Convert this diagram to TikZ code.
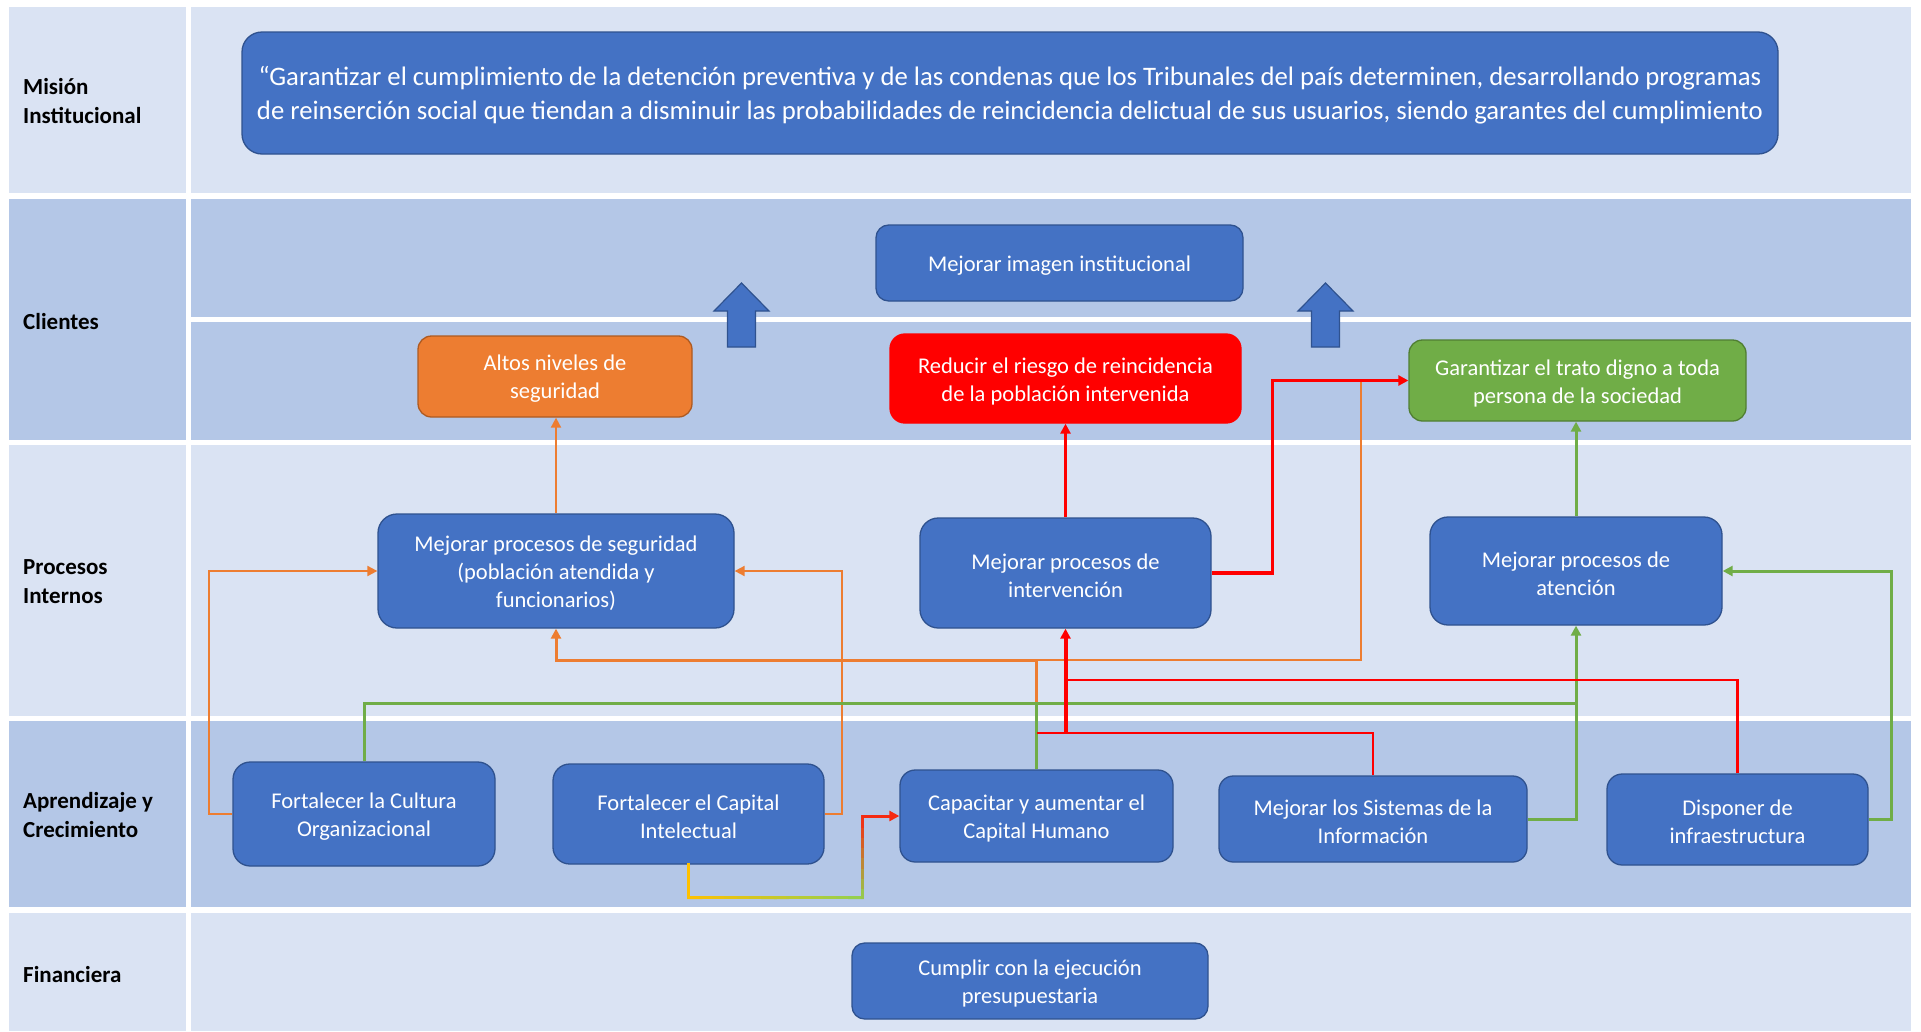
\documentclass[tikz,border=0pt]{standalone}
\usepackage{fontspec}
\setmainfont{Carlito}
\usetikzlibrary{arrows.meta,calc}

\definecolor{laneLight}{HTML}{DAE3F3}
\definecolor{laneDark}{HTML}{B4C7E7}
\definecolor{boxBlue}{HTML}{4472C4}
\definecolor{boxEdge}{HTML}{2F528F}
\definecolor{accOrange}{HTML}{ED7D31}
\definecolor{accOrangeEdge}{HTML}{AE5A21}
\definecolor{accGreen}{HTML}{70AD47}
\definecolor{accGreenEdge}{HTML}{507E32}
\definecolor{accRed}{HTML}{FF0000}
\definecolor{gYel}{HTML}{FFC000}
\definecolor{gGrn}{HTML}{92D050}
\definecolor{gRed}{HTML}{F52A12}

\begin{document}
\begin{tikzpicture}[x=1pt,y=-1pt,
  box/.style={draw=boxEdge, fill=boxBlue, line width=1.3pt, rounded corners=#1,
    inner sep=0pt},
  box/.default=15pt,
  sz/.style 2 args={minimum width=#1pt, minimum height=#2pt},
  txt/.style={text=white, align=center, inner sep=0pt,
    font=\fontsize{22.5}{28}\selectfont},
  lbl/.style={anchor=west, align=left, inner sep=0pt,
    font=\fontsize{23}{29}\selectfont\bfseries},
  tip/.style={-{Triangle[length=10pt,width=10pt]}},
  othin/.style={draw=accOrange, line width=2pt},
  othick/.style={draw=accOrange, line width=3pt},
  rthin/.style={draw=accRed, line width=2.6pt},
  rmid/.style={draw=accRed, line width=3.2pt},
  rthick/.style={draw=accRed, line width=4pt},
  gline/.style={draw=accGreen, line width=3pt},
  gradline/.style={line width=3pt, line cap=rect},
  blockarrow/.style={fill=boxBlue, draw=boxEdge, line width=1.2pt, line join=miter}
]
\useasboundingbox (0,0) rectangle (1921,1031);

% swim lanes: label column and content column
\fill[laneLight] (9,7) rectangle (185.5,193);
\fill[laneLight] (191,7) rectangle (1911,193);
\fill[laneDark] (9,199) rectangle (185.5,440);
\fill[laneDark] (191,199) rectangle (1911,317);
\fill[laneDark] (191,322) rectangle (1911,440);
\fill[laneLight] (9,445) rectangle (185.5,715.5);
\fill[laneLight] (191,445) rectangle (1911,715.5);
\fill[laneDark] (9,721) rectangle (185.5,907);
\fill[laneDark] (191,721) rectangle (1911,907);
\fill[laneLight] (9,913) rectangle (185.5,1031);
\fill[laneLight] (191,913) rectangle (1911,1031);

% lane titles
\node[lbl] (lMision) at (23,101.5) {Misión\\Institucional};
\node[lbl] (lClientes) at (23,322) {Clientes};
\node[lbl] (lProcesos) at (23,582) {Procesos\\Internos};
\node[lbl] (lAprend) at (23,815.5) {Aprendizaje y\\Crecimiento};
\node[lbl] (lFin) at (23,974) {Financiera};

% mission statement
\node[box=20pt, sz={1536}{122}] (mision) at (1010,93) {};
\node[txt, font=\fontsize{26.7}{34}\selectfont] (misionT) at ([yshift=-2.5pt]mision.center)
  {“Garantizar el cumplimiento de la detención preventiva y de las condenas que los Tribunales del país determinen, desarrollando programas\\
   de reinserción social que tiendan a disminuir las probabilidades de reincidencia delictual de sus usuarios, siendo garantes del cumplimiento};

% clients
\node[box=12.7pt, sz={367}{76}] (img) at (1059.5,263) {};
\node[box=13.5pt, sz={274}{81}, fill=accOrange, draw=accOrangeEdge] (alt) at (555,376.5) {};
\node[box=14.8pt, sz={351}{89}, fill=accRed, draw=accRed] (red) at (1065.5,378.5) {};
\node[box=13.5pt, sz={337}{81}, fill=accGreen, draw=accGreenEdge] (gar) at (1577.5,380.5) {};

% internal processes
\node[box=19pt, sz={356}{114}] (seg) at (556,571) {};
\node[box=18.3pt, sz={291}{110}] (int) at (1065.5,573) {};
\node[box=18pt, sz={292}{108}] (att) at (1576,571) {};

% learning and growth
\node[box=17.3pt, sz={262}{104}] (cult) at (364,814) {};
\node[box=16.7pt, sz={271}{100}] (intel) at (688.5,814) {};
\node[box=15.3pt, sz={273}{92}] (cap) at (1036.5,816) {};
\node[box=14.3pt, sz={308}{86}] (sis) at (1373,819) {};
\node[box=15.2pt, sz={261}{91}] (dis) at (1737.5,819.5) {};

% financial
\node[box=12.7pt, sz={356}{76}] (cum) at (1030,981) {};

% box captions
\node[txt] (imgT) at ([yshift=-3pt]img.center) {Mejorar imagen institucional};
\node[txt] (altT) at ([yshift=-2.5pt]alt.center) {Altos niveles de\\seguridad};
\node[txt] (redT) at ([yshift=-2.5pt]red.center) {Reducir el riesgo de reincidencia\\de la población intervenida};
\node[txt] (garT) at ([yshift=-2.5pt]gar.center) {Garantizar el trato digno a toda\\persona de la sociedad};
\node[txt] (segT) at ([yshift=-2.5pt]seg.center) {Mejorar procesos de seguridad\\(población atendida y\\funcionarios)};
\node[txt] (intT) at ([yshift=-2.5pt]int.center) {Mejorar procesos de\\intervención};
\node[txt] (attT) at ([yshift=-2.5pt]att.center) {Mejorar procesos de\\atención};
\node[txt] (cultT) at ([yshift=-2.5pt]cult.center) {Fortalecer la Cultura\\Organizacional};
\node[txt] (intelT) at ([yshift=-2.5pt]intel.center) {Fortalecer el Capital\\Intelectual};
\node[txt] (capT) at ([yshift=-2.5pt]cap.center) {Capacitar y aumentar el\\Capital Humano};
\node[txt] (sisT) at ([yshift=-2.5pt]sis.center) {Mejorar los Sistemas de la\\Información};
\node[txt] (disT) at ([yshift=-2.5pt]dis.center) {Disponer de\\infraestructura};
\node[txt] (cumT) at ([yshift=-2.5pt]cum.center) {Cumplir con la ejecución\\presupuestaria};

% block arrows towards the institutional image
\foreach \cx in {741.5,1325.5} {
  \draw[blockarrow] (\cx,283) -- ({\cx+27.5},311) -- ({\cx+14},311) -- ({\cx+14},347)
    -- ({\cx-14},347) -- ({\cx-14},311) -- ({\cx-27.5},311) -- cycle;
}

% helper levels for the routed connectors
\coordinate (yOr) at (0,660);
\coordinate (xOr) at (1361,0);
\coordinate (yRd) at (0,680);
\coordinate (yGr) at (0,703);
\coordinate (yRs) at (0,733);

% orange connectors
\draw[othick, tip] (cap.north) -- (cap.north |- yOr) -| (seg.south);
\draw[othin] (cap.north |- yOr) -- (xOr |- yOr) -- (xOr |- gar.west);
\draw[othin, tip] (seg.north) -- (seg.north |- alt.south);
\draw[othin, tip] (cult.west) -- ++(-23,0) |- (seg.west);
\draw[othin, tip] (intel.east) -- ++(17,0) |- (seg.east);

% green connectors
\draw[gline] (cult.north) |- (att.south |- yGr);
\draw[gline] (cap.north) -- (cap.north |- yGr);
\draw[gline, tip] (sis.east) -| (att.south);
\draw[gline, tip] (att.north) -- (att.north |- gar.south);
\draw[gline, tip] (dis.east) -- ++(23,0) |- (att.east);

% red connectors
\draw[rthin] (dis.north) |- (int.south |- yRd);
\draw[rthin] (sis.north) |- (cap.north |- yRs);
\draw[rthick, tip] (int.south |- yRs) -- (int.south);
\draw[rmid, tip] (int.north) -- (red.south);
\draw[rmid, tip] (int.east) -- ++(61,0) |- (gar.west);

% colour-graded connector from intellectual to human capital
\path (intel.south) ++(0,33) coordinate (g1);
\coordinate (gx) at (862,0);
\coordinate (g2) at (gx |- g1);
\coordinate (g3) at (gx |- cap.west);
\draw[gradline, draw=gYel] (intel.south) -- (g1);
\foreach \i in {0,...,13} {
  \pgfmathsetmacro\ta{\i/14}
  \pgfmathsetmacro\tb{(\i+1)/14}
  \pgfmathsetmacro\p{100*(\i+0.5)/14}
  \draw[gradline, draw=gGrn!\p!gYel] ($(g1)!\ta!(g2)$) -- ($(g1)!\tb!(g2)$);
}
\foreach \i in {0,...,7} {
  \pgfmathsetmacro\ta{\i/8}
  \pgfmathsetmacro\tb{(\i+1)/8}
  \pgfmathsetmacro\p{100*(\i+0.5)/8}
  \draw[gradline, draw=gRed!\p!gGrn] ($(g2)!\ta!(g3)$) -- ($(g2)!\tb!(g3)$);
}
\draw[line width=3pt, draw=gRed, tip] (g3) -- (cap.west);

\end{tikzpicture}
\end{document}
